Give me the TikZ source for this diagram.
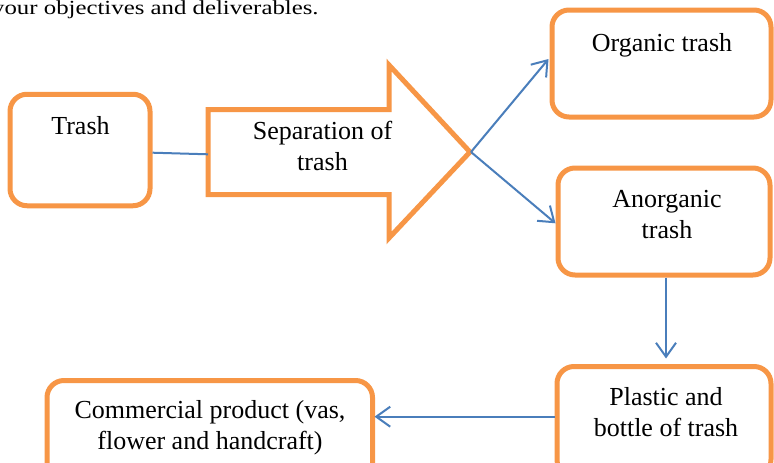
\documentclass[tikz,border=0pt]{standalone}
\usepackage{fontspec}
\setmainfont{Liberation Serif}
\usetikzlibrary{arrows.meta}
\definecolor{boxorange}{HTML}{F79646}
\definecolor{linkblue}{HTML}{4A7EBB}
\tikzset{
  box/.style={draw=boxorange, line width=5pt, rounded corners=17pt, fill=white, inner sep=0pt},
  lbl/.style={font=\fontsize{26}{31}\selectfont, align=center, inner sep=0pt, anchor=base},
  link/.style={draw=linkblue, line width=2pt},
  linkarrow/.style={link, -{Straight Barb[length=14pt,width=20pt,line width=2pt]}},
}
\begin{document}
\begin{tikzpicture}[x=1pt,y=-1pt]
\useasboundingbox (0,0) rectangle (774,463);
\clip (0,0) rectangle (774,463);
% top text fragment
\node[anchor=base west, inner sep=0pt, font=\fontsize{20}{24}\selectfont] (toptext) at (-8,14) {\scalebox{1.24}[1]{your objectives and deliverables.}};
% boxes
\node[box, minimum width=140pt, minimum height=111.5pt] (trash) at (80,150) {};
\node[box, minimum width=219pt, minimum height=107pt] (organic) at (661.5,63.5) {};
\node[box, minimum width=212pt, minimum height=107pt] (anorganic) at (664,221.5) {};
\node[box, minimum width=214pt, minimum height=110pt] (plastic) at (664,421.5) {};
\node[box, minimum width=325.5pt, minimum height=110pt] (commercial) at (209.75,435.5) {};
% block arrow
\draw[draw=boxorange, line width=5pt, fill=white, miter limit=10]
  (208,109.5) -- (389,109.5) -- (389,65) -- (470,152) -- (389,238) -- (389,194.5) -- (208,194.5) -- cycle;
\coordinate (septip) at (471,152);
\coordinate (sepleft) at (208,154.3);
% labels (base = baseline of last line)
\node[lbl] (trashtxt) at (80.5,134.5) {Trash};
\node[lbl] (septxt) at (322.5,170.5) {Separation of\\trash};
\node[lbl] (orgtxt) at (662,51.7) {Organic trash};
\node[lbl] (anotxt) at (667,238.5) {Anorganic\\trash};
\node[lbl] (plastxt) at (666,436.7) {Plastic and\\bottle of trash};
\node[lbl] (comtxt) at (210,449.3) {Commercial product (vas,\\flower and handcraft)};
% connectors
\draw[link] (trash.east |- 0,152.7) -- (sepleft);
\draw[linkarrow] (septip) -- (548.5,59);
\draw[linkarrow] (septip) -- (555.5,223.3);
\draw[linkarrow] (anorganic.south -| 666,0) -- (666,358.5);
\draw[linkarrow] (plastic.west |- 0,416.7) -- (374.5,416.7);
\end{tikzpicture}
\end{document}
